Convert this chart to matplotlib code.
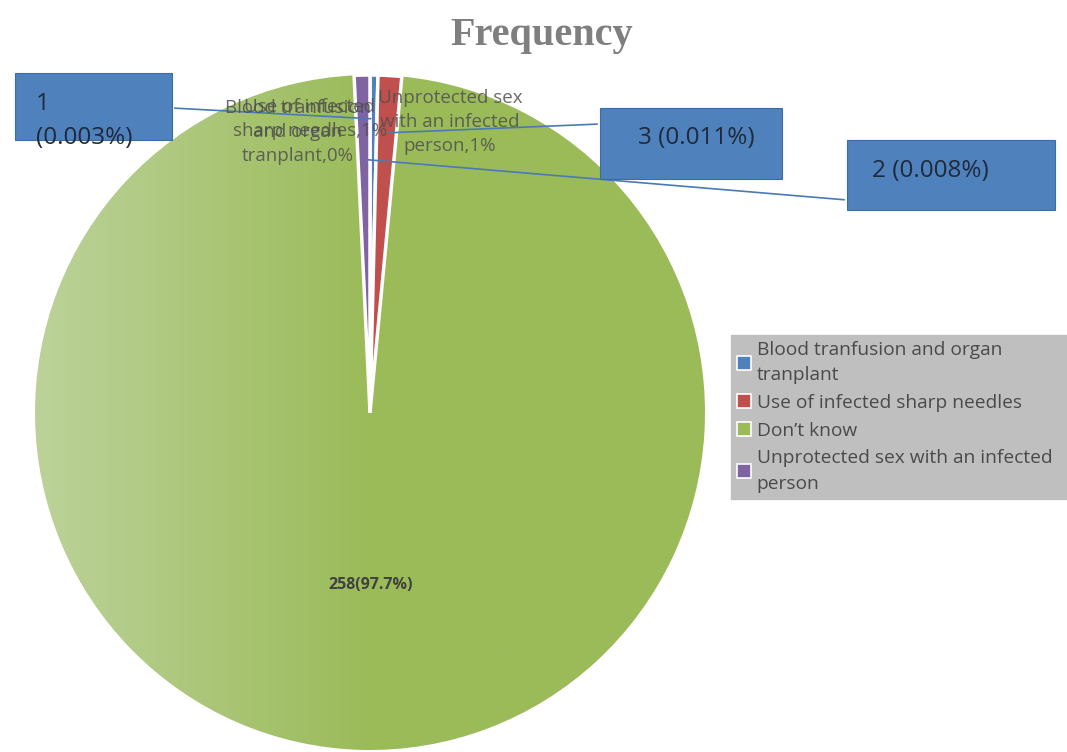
import numpy as np
import matplotlib.pyplot as plt
from matplotlib.patches import Patch
from matplotlib.colors import LinearSegmentedColormap

# data
categories = ["Blood tranfusion and organ\ntranplant",
              "Use of infected sharp needles",
              "Don\u2019t know",
              "Unprotected sex with an infected\nperson"]
counts = [1, 3, 258, 2]
callouts = ["1\n(0.003%)", "3 (0.011%)", "258(97.7%)", "2 (0.008%)"]
slice_labels = ["Blood tranfusion\nand organ\ntranplant,0%",
                "Use of infected\nsharp needles,1%",
                "",
                "Unprotected sex\nwith an infected\nperson,1%"]
colors = ["#4F81BD", "#C0504D", "#9BBB59", "#8064A2"]

W, H = 1067, 752


def fx(x):
    return x / W


def fy(y):
    return 1 - y / H


plt.rcParams["font.family"] = ["Open Sans", "DejaVu Sans"]

fig = plt.figure(figsize=(W / 100, H / 100), dpi=100)
ax = fig.add_axes([fx(35), fy(750), fx(670), 675 / H])

wedges, _ = ax.pie(counts, colors=colors, startangle=90, counterclock=False,
                   wedgeprops=dict(edgecolor="white", linewidth=2.5))

# lighter gradient on the left of the big slice
grad = np.linspace(0, 1, 256).reshape(1, -1)
cmap = LinearSegmentedColormap.from_list("g", ["#BCD29A", "#9BBB59", "#9BBB59"])
im = ax.imshow(grad, extent=[-1, 1, -1, 1], cmap=cmap, aspect="auto", zorder=0.5)
im.set_clip_path(wedges[2])
wedges[2].set_zorder(0.4)
for w in wedges:
    if w is not wedges[2]:
        w.set_zorder(1)
ax.set_xlim(-1.0, 1.0)
ax.set_ylim(-1.0, 1.0)
ax.axis("off")

# title
fig.text(fx(542), fy(35), "Frequency", ha="center", va="center",
         fontsize=29, fontweight="bold", color="#7F7F7F",
         family=["Liberation Serif", "DejaVu Serif"])

# overlapping category labels near the top
lab_pos = [(298, 132), (310, 119), None, (450, 122)]
for lab, pos in zip(slice_labels, lab_pos):
    if pos is None:
        continue
    fig.text(fx(pos[0]), fy(pos[1]), lab, ha="center", va="center",
             fontsize=13.5, color="#4F4F4F", alpha=0.85, linespacing=1.45)

# big slice value label
fig.text(fx(371), fy(585), callouts[2], ha="center", va="center",
         fontsize=11.5, fontweight="bold", color="#404040")

# callout boxes (left, top, right, bottom) in pixels
boxes = {0: (15, 73, 172, 140), 1: (600, 108, 782, 179), 3: (847, 140, 1055, 210)}
line_src = {0: (172, 108), 1: (600, 124), 3: (847, 200)}
line_r = {0: 0.87, 1: 0.83, 3: 0.75}
for i, (l, t, r, b) in boxes.items():
    rect = plt.Rectangle((fx(l), fy(b)), fx(r - l), (b - t) / H,
                         transform=fig.transFigure, facecolor="#4F81BD",
                         edgecolor="#3A6DA8", linewidth=0.8, zorder=3)
    fig.add_artist(rect)
    w = wedges[i]
    ang = np.deg2rad((w.theta1 + w.theta2) / 2)
    xy = (line_r[i] * np.cos(ang), line_r[i] * np.sin(ang))
    sx, sy = line_src[i]
    ax.annotate("", xy=xy, xycoords="data", xytext=(fx(sx), fy(sy)),
                textcoords="figure fraction",
                arrowprops=dict(arrowstyle="-", color="#4A7AB5", lw=1.2),
                zorder=2, annotation_clip=False)

fig.text(fx(36), fy(121), callouts[0], ha="left", va="center", fontsize=17.5,
         color="#1F2A3A", linespacing=1.55, zorder=4)
fig.text(fx(696), fy(138), callouts[1], ha="center", va="center", fontsize=17.5,
         color="#1F2A3A", zorder=4)
fig.text(fx(930), fy(171), callouts[3], ha="center", va="center", fontsize=17.5,
         color="#1F2A3A", zorder=4)

# legend
handles = [Patch(facecolor=c, edgecolor="white", linewidth=1.2) for c in colors]
leg = fig.legend(handles, categories, loc="upper left",
                 bbox_to_anchor=(fx(731), fy(497), fx(336), 162 / H),
                 mode="expand", frameon=True,
                 fancybox=False, facecolor="#BFBFBF", edgecolor="#BFBFBF",
                 framealpha=1, fontsize=13.8, handlelength=0.75, handleheight=0.75,
                 handletextpad=0.3, labelspacing=0.5, borderpad=0.3,
                 borderaxespad=0)
for t in leg.get_texts():
    t.set_color("#4A4A4A")
    t.set_linespacing(1.55)

fig.savefig("out.png", dpi=100, facecolor="white")
